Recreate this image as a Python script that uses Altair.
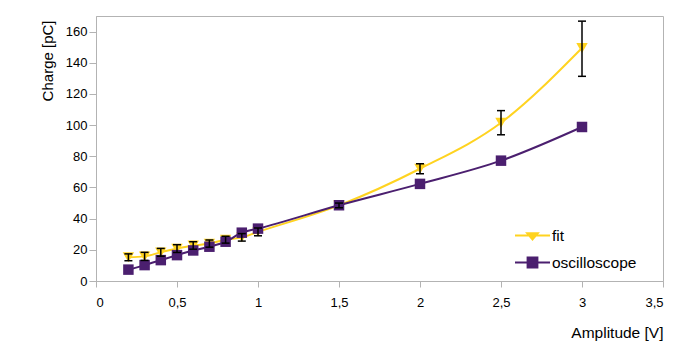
import altair as alt
import pandas as pd

# ---- data ----
amplitude = [0.2, 0.3, 0.4, 0.5, 0.6, 0.7, 0.8, 0.9, 1.0, 1.5, 2.0, 2.5, 3.0]
fit_charge = [15.2, 15.8, 18.4, 20.8, 22.8, 24.0, 26.5, 28.0, 31.5, 48.5, 72.0, 101.5, 149.5]
fit_err_low = [13.0, 13.2, 15.9, 18.3, 20.4, 21.7, 24.3, 25.6, 29.0, 47.0, 68.8, 93.8, 131.3]
fit_err_high = [17.4, 18.4, 20.9, 23.3, 25.2, 26.3, 28.7, 30.4, 34.0, 50.0, 75.2, 109.3, 166.7]
osc_charge = [7.3, 10.2, 13.4, 16.6, 19.6, 22.0, 25.2, 31.0, 33.6, 48.6, 62.3, 77.2, 98.8]

series_names = ["fit", "oscilloscope"]
series_colors = ["#ffd320", "#4b1f6f"]
x_ticks = [0, 0.5, 1, 1.5, 2, 2.5, 3, 3.5]
y_ticks = [0, 20, 40, 60, 80, 100, 120, 140, 160]

rows = []
for i, a in enumerate(amplitude):
    rows.append({"amplitude": a, "series": "fit", "charge": fit_charge[i],
                 "lo": fit_err_low[i], "hi": fit_err_high[i]})
for i, a in enumerate(amplitude):
    rows.append({"amplitude": a, "series": "oscilloscope", "charge": osc_charge[i],
                 "lo": None, "hi": None})
df = pd.DataFrame(rows)

FONT = "Liberation Sans"

x_axis = alt.Axis(values=x_ticks, title="Amplitude [V]",
                  labelExpr="replace(format(datum.value, '~g'), '.', ',')",
                  tickSize=6, labelPadding=9, titleFontSize=15.5,
                  titleAnchor="end", titleAlign="right", titleX=567, titleY=56,
                  titleBaseline="alphabetic")
y_axis = alt.Axis(values=y_ticks, title="Charge [pC]", tickSize=7, labelPadding=2,
                  titleFontSize=15, titleAngle=-90, titleAlign="right",
                  titleBaseline="alphabetic", titleX=-44, titleY=4)

x_scale = alt.Scale(domain=[0, 3.5], nice=False, zero=False)
y_scale = alt.Scale(domain=[0, 170], nice=False)

stroke_scale = alt.Scale(domain=series_names, range=series_colors)
fill_scale = alt.Scale(domain=series_names, range=series_colors)

tri_path = "M-1,0H1M-0.3,-0.13H0.3L0,0.22Z"
sq_path = "M-1,0H1M-0.28,-0.28H0.28V0.28H-0.28Z"
shape_scale = alt.Scale(domain=series_names, range=[tri_path, sq_path])

leg = alt.Legend(title=None, orient="none", legendX=418, legendY=201,
                 symbolSize=1225, symbolStrokeWidth=2, labelFontSize=15.5,
                 labelFont=FONT, labelColor="#000000", rowPadding=-3,
                 padding=0, labelOffset=1, symbolOpacity=1)

X = alt.X("amplitude:Q", scale=x_scale, axis=x_axis)
Y = alt.Y("charge:Q", scale=y_scale, axis=y_axis)
STROKE = alt.Stroke("series:N", scale=stroke_scale, legend=leg)
FILL = alt.Fill("series:N", scale=fill_scale, legend=leg)

base = alt.Chart(df)

fit_line = base.transform_filter("datum.series == 'fit'").mark_line(
    interpolate="monotone", strokeWidth=2).encode(x=X, y=Y, stroke=STROKE)

osc_line = base.transform_filter("datum.series == 'oscilloscope'").mark_line(
    interpolate="monotone", strokeWidth=2).encode(x=X, y=Y, stroke=STROKE)

fit_pts = base.transform_filter("datum.series == 'fit'").mark_point(
    shape="triangle-down", filled=True, size=130, opacity=1).encode(
    x=X, y=Y, fill=FILL)

osc_pts = base.transform_filter("datum.series == 'oscilloscope'").mark_point(
    shape="square", filled=True, size=110, opacity=1).encode(
    x=X, y=Y, fill=FILL)

fit_only = base.transform_filter("datum.series == 'fit'")
err_rule = fit_only.mark_rule(color="#000000", strokeWidth=1.5).encode(
    x=X, y=alt.Y("lo:Q", scale=y_scale, axis=y_axis), y2="hi:Q")
err_lo = fit_only.mark_tick(orient="horizontal", size=8, thickness=1.5,
                            color="#000000", opacity=1).encode(
    x=X, y=alt.Y("lo:Q", scale=y_scale, axis=y_axis))
err_hi = fit_only.mark_tick(orient="horizontal", size=8, thickness=1.5,
                            color="#000000", opacity=1).encode(
    x=X, y=alt.Y("hi:Q", scale=y_scale, axis=y_axis))

legend_layer = base.transform_filter("datum.amplitude < 0").mark_point(
    filled=True, opacity=1).encode(
    x=X, y=Y, fill=FILL, stroke=STROKE,
    shape=alt.Shape("series:N", scale=shape_scale, legend=leg))

chart = alt.layer(fit_line, fit_pts, osc_line, osc_pts, err_rule, err_lo, err_hi,
                  legend_layer).properties(
    width=567, height=265,
    autosize=alt.AutoSizeParams(type="none"),
    padding={"left": 88, "top": 8, "right": 6, "bottom": 70},
).configure_view(
    stroke="#b3b3b3", strokeWidth=1
).configure_axis(
    grid=False, domainColor="#b3b3b3", tickColor="#b3b3b3", domainWidth=1,
    tickWidth=1, labelFont=FONT, labelFontSize=13, labelColor="#000000",
    titleFont=FONT, titleFontWeight="normal", titleColor="#000000"
)

chart.save("out.html", embed_options={"renderer": "svg", "actions": False})
